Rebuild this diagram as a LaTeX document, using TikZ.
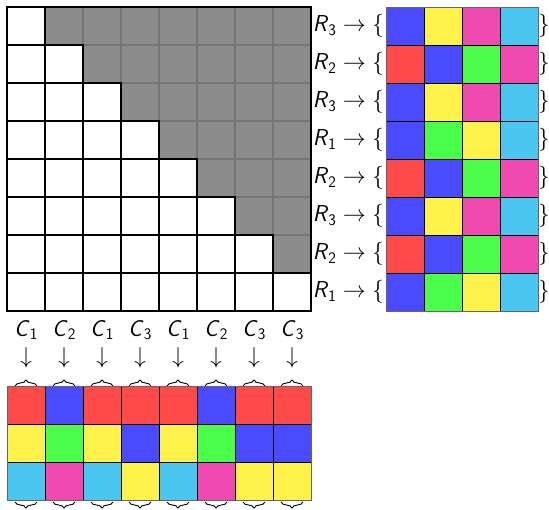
\RequirePackage{fix-cm}
\documentclass[tikz,border=0pt]{standalone}
\usepackage{amsmath}
\usetikzlibrary{decorations.pathreplacing}
\definecolor{cred}{RGB}{255,74,74}
\definecolor{cblue}{RGB}{74,74,255}
\definecolor{cyellow}{RGB}{255,242,74}
\definecolor{cgreen}{RGB}{74,255,74}
\definecolor{cpink}{RGB}{240,74,176}
\definecolor{ccyan}{RGB}{74,198,240}
\definecolor{gfill}{RGB}{140,140,140}
\definecolor{gline}{RGB}{118,118,118}
\newcommand{\Rv}[1]{\textsf{\textsl{R}}_{\textsf{#1}}}
\newcommand{\Cv}[1]{\textsf{\textsl{C}}_{\textsf{#1}}}
\tikzset{
  graycell/.style={fill=gfill,draw=gline,line width=2pt},
  whitecell/.style={fill=white,draw=black,line width=2.4pt},
  colcell/.style={draw=black,line width=0.8pt},
  colframe/.style={draw=gray!80!black,line width=1pt},
  lab/.style={inner sep=0pt,font=\fontsize{23}{27}\selectfont},
  bracepath/.style={decorate,decoration={brace,amplitude=6pt},line width=0.9pt}
}
\begin{document}
\begin{tikzpicture}[x=1pt,y=-1pt]
\useasboundingbox (0,0) rectangle (549,509);
% main triangular grid
\foreach \r in {0,...,7}{\foreach \c in {0,...,7}{
  \ifnum\c>\r
    \draw[graycell] ({7+38*\c},{7+38*\r}) rectangle ++(38,38);
  \fi}}
\foreach \r in {0,...,7}{\foreach \c in {0,...,7}{
  \ifnum\c>\r\else
    \draw[whitecell] ({7+38*\c},{7+38*\r}) rectangle ++(38,38);
  \fi}}
\draw[line width=2.6pt] (7,7) rectangle (311,311);
% right side: row labels and colour rows
\foreach \lab/\cols [count=\i from 0] in {3/{cblue,cyellow,cpink,ccyan},2/{cred,cblue,cgreen,cpink},3/{cblue,cyellow,cpink,ccyan},1/{cblue,cgreen,cyellow,ccyan},2/{cred,cblue,cgreen,cpink},3/{cblue,cyellow,cpink,ccyan},2/{cred,cblue,cgreen,cpink},1/{cblue,cgreen,cyellow,ccyan}}{
  \node[lab,anchor=east] (r\i) at (384,{26+38*\i}) {$\Rv{\lab}\rightarrow\{$};
  \node[lab,anchor=west] (rc\i) at (538,{26+38*\i}) {$\}$};
  \foreach \cc [count=\j from 0] in \cols {
    \draw[colcell,fill=\cc] ({386+38*\j},{7+38*\i}) rectangle ++(38,38);
  }
}
\draw[colframe] (386,7) rectangle (538,311);
% bottom: column labels, arrows, braces, colour columns
\foreach \lab/\cols [count=\i from 0] in {1/{cred,cyellow,ccyan},2/{cblue,cgreen,cpink},1/{cred,cyellow,ccyan},3/{cred,cblue,cyellow},1/{cred,cyellow,ccyan},2/{cblue,cgreen,cpink},3/{cred,cblue,cyellow},3/{cred,cblue,cyellow}}{
  \node[lab,anchor=base] (c\i) at ({26+38*\i},336) {$\Cv{\lab}$};
  \node[lab] (a\i) at ({26+38*\i},358) {$\downarrow$};
  \draw[bracepath] ({15+38*\i},386) -- ({37+38*\i},386);
  \draw[bracepath,decoration={mirror}] ({15+38*\i},502) -- ({37+38*\i},502);
  \foreach \cc [count=\j from 0] in \cols {
    \draw[colcell,fill=\cc] ({7+38*\i},{386+38*\j}) rectangle ++(38,38);
  }
}
\draw[colframe] (7,386) rectangle (311,500);
\end{tikzpicture}
\end{document}
